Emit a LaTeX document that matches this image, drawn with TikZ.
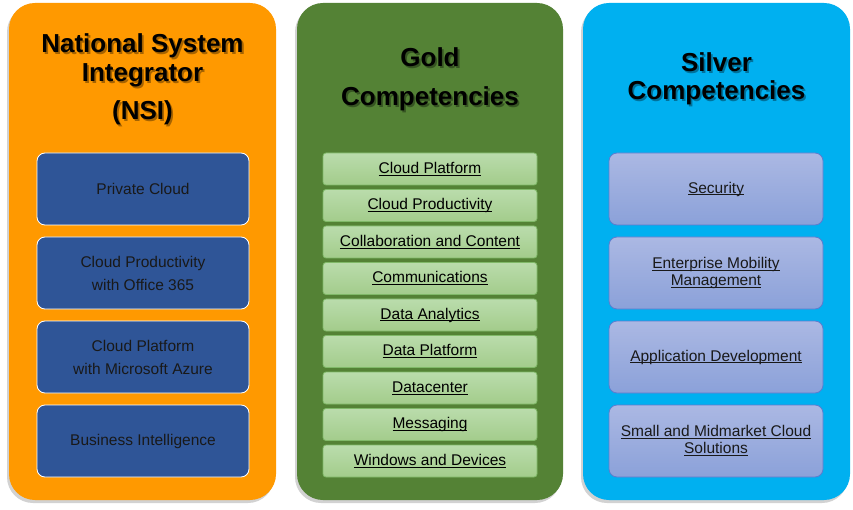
\documentclass[tikz,border=0pt]{standalone}
\usepackage{fontspec}
\setmainfont{Liberation Sans}
\usetikzlibrary{shadows}
\definecolor{nsiorange}{HTML}{FF9900}
\definecolor{goldgreen}{HTML}{548235}
\definecolor{silverblue}{HTML}{00B0F0}
\definecolor{nsifill}{HTML}{2F5597}
\definecolor{goldtop}{HTML}{BADCAC}
\definecolor{goldbot}{HTML}{A3CC8B}
\definecolor{goldline}{HTML}{80B968}
\definecolor{silvertop}{HTML}{ABB8E3}
\definecolor{silverbot}{HTML}{8BA1D9}
\definecolor{silverline}{HTML}{5B7CCF}
\newcommand{\ulined}[1]{\leavevmode\setbox0\hbox{#1}\rlap{\rule[-2.3pt]{\wd0}{0.9pt}}\box0}
\newcommand{\headline}[4]{%
  \node[heading,text=black,opacity=.35] (#1s) at (#2+1.8,#3+1.8) {#4};
  \node[heading] (#1) at (#2,#3) {#4};}
\tikzset{
  panel/.style={rounded corners=26pt,minimum width=267pt,minimum height=497pt,
    drop shadow={shadow xshift=-2pt,shadow yshift=-3pt,opacity=.25,fill=black!70}},
  heading/.style={font=\fontsize{26}{28}\selectfont\bfseries,anchor=base,inner sep=0pt},
  nsibox/.style={draw=white,line width=0.8pt,fill=nsifill,rounded corners=8pt,
    minimum width=212pt,minimum height=72pt,align=center,text=black!90,
    font=\fontsize{15.5}{23}\selectfont},
  goldbox/.style={draw=goldline,line width=0.8pt,top color=goldtop,bottom color=goldbot,
    rounded corners=3pt,minimum width=214pt,minimum height=32pt,
    font=\fontsize{15.5}{17}\selectfont},
  silverbox/.style={draw=silverline,line width=0.8pt,top color=silvertop,bottom color=silverbot,
    rounded corners=8pt,minimum width=214pt,minimum height=72pt,align=center,text=black!90,
    font=\fontsize{15.5}{17}\selectfont}
}

\begin{document}
\begin{tikzpicture}[x=1pt,y=-1pt]
  \useasboundingbox[fill=white] (0,0) rectangle (853,510);
  % panels
  \node[panel,fill=nsiorange] (nsi) at (142.5,251.5) {};
  \node[panel,fill=goldgreen,minimum width=266pt] (gold) at (430,251.5) {};
  \node[panel,fill=silverblue] (silver) at (716.5,251.5) {};
  % headings
  \headline{nsititle}{142.5}{53}{National System}
  \headline{nsititleb}{142.5}{82}{Integrator}
  \headline{nsititlec}{142.5}{120}{(NSI)}
  \headline{goldtitle}{430}{67}{Gold}
  \headline{goldtitleb}{430}{106}{Competencies}
  \headline{silvertitle}{716.5}{72}{Silver}
  \headline{silvertitleb}{716.5}{100}{Competencies}
  % national system integrator
  \node[nsibox] (nsi1) at (143,189) {Private Cloud};
  \node[nsibox] (nsi2) at (143,273) {Cloud Productivity\\with Office 365};
  \node[nsibox] (nsi3) at (143,357) {Cloud Platform\\with Microsoft Azure};
  \node[nsibox] (nsi4) at (143,441) {Business Intelligence};
  % gold competencies
  \node[goldbox] (gold1) at (430,169) {\ulined{Cloud Platform}};
  \node[goldbox] (gold2) at (430,205.5) {\ulined{Cloud Productivity}};
  \node[goldbox] (gold3) at (430,242) {\ulined{Collaboration and Content}};
  \node[goldbox] (gold4) at (430,278.5) {\ulined{Communications}};
  \node[goldbox] (gold5) at (430,315) {\ulined{Data Analytics}};
  \node[goldbox] (gold6) at (430,351.5) {\ulined{Data Platform}};
  \node[goldbox] (gold7) at (430,388) {\ulined{Datacenter}};
  \node[goldbox] (gold8) at (430,424.5) {\ulined{Messaging}};
  \node[goldbox] (gold9) at (430,461) {\ulined{Windows and Devices}};
  % silver competencies
  \node[silverbox] (silver1) at (716,189) {\ulined{Security}};
  \node[silverbox] (silver2) at (716,273) {\ulined{Enterprise Mobility}\\\ulined{Management}};
  \node[silverbox] (silver3) at (716,357) {\ulined{Application Development}};
  \node[silverbox] (silver4) at (716,441) {\ulined{Small and Midmarket Cloud}\\\ulined{Solutions}};
\end{tikzpicture}
\end{document}
